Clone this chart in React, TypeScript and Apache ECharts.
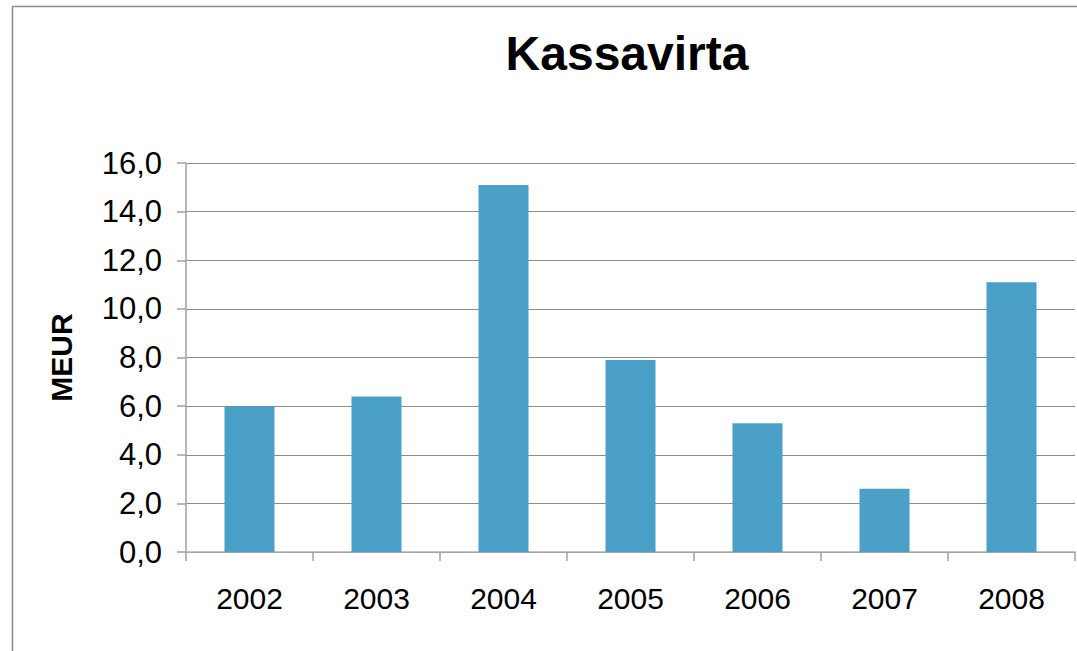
import React, { useEffect, useRef } from "react";
import * as echarts from "echarts";

const years = ["2002", "2003", "2004", "2005", "2006", "2007", "2008"];
const cashFlow = [6.0, 6.4, 15.1, 7.9, 5.3, 2.6, 11.1];
const chartTitle = "Kassavirta";
const yAxisName = "MEUR";

export default function App() {
  const ref = useRef<HTMLDivElement>(null);
  useEffect(() => {
    if (!ref.current) return;
    const chart = echarts.init(ref.current, null, { renderer: "svg" });
    const font = "Liberation Sans, Arial, sans-serif";
    chart.setOption({
      animation: false,
      backgroundColor: "#ffffff",
      title: {
        text: chartTitle,
        left: 622,
        textAlign: "center",
        top: 24,
        textStyle: { fontFamily: font, fontSize: 48, fontWeight: "bold", color: "#000" },
      },
      graphic: [
        {
          type: "rect",
          shape: { x: 12.5, y: 6.5, width: 1200, height: 800 },
          style: { fill: "none", stroke: "#8a8a8a", lineWidth: 1.5 },
          silent: true,
        },
      ],
      grid: { left: 186, right: 2, top: 163, bottom: 99, containLabel: false },
      xAxis: {
        type: "category",
        data: years,
        axisLine: { show: true, lineStyle: { color: "#b0b0b0", width: 1.5 } },
        axisTick: { show: true, length: 9, alignWithLabel: false, lineStyle: { color: "#a0a0a0", width: 1.5 } },
        axisLabel: { margin: 31, fontFamily: font, fontSize: 30, color: "#000" },
        splitLine: { show: false },
      },
      yAxis: {
        type: "value",
        min: 0,
        max: 16,
        interval: 2,
        name: yAxisName,
        nameLocation: "middle",
        nameGap: 110,
        nameRotate: 90,
        nameTextStyle: { fontFamily: font, fontSize: 30, fontWeight: "bold", color: "#000" },
        axisLine: { show: true, lineStyle: { color: "#a0a0a0", width: 1.5 } },
        axisTick: { show: true, length: 9, lineStyle: { color: "#a0a0a0", width: 1.5 } },
        axisLabel: {
          margin: 24,
          fontFamily: font,
          fontSize: 31,
          color: "#000",
          formatter: (v: number) => v.toFixed(1).replace(".", ","),
        },
        splitLine: { show: true, lineStyle: { color: "#8c8c8c", width: 1 } },
      },
      series: [
        {
          type: "bar",
          data: cashFlow,
          barWidth: 50,
          itemStyle: { color: "#4BA0C8" },
        },
      ],
    });
    return () => chart.dispose();
  }, []);
  return (
    <div
      ref={ref}
      style={{ position: "fixed", left: 0, top: 0, width: 1077, height: 651 }}
    />
  );
}
